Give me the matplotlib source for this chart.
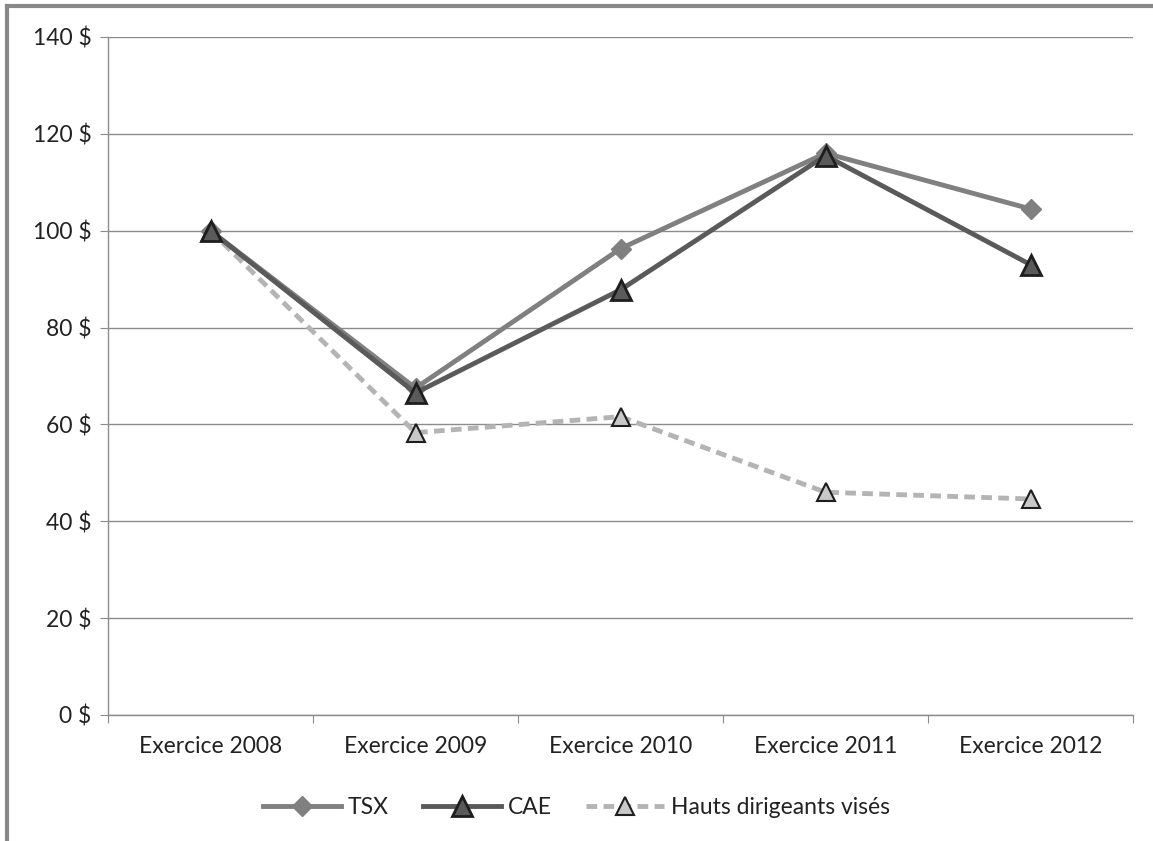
import matplotlib
matplotlib.use("Agg")
import matplotlib.pyplot as plt
from matplotlib.lines import Line2D

categories = ["Exercice 2008", "Exercice 2009", "Exercice 2010", "Exercice 2011", "Exercice 2012"]
tsx = [100, 67.5, 96.3, 116, 104.5]
cae = [100, 66.5, 87.8, 115.5, 93]
hauts = [100, 58.3, 61.6, 46, 44.6]
yticks = [0, 20, 40, 60, 80, 100, 120, 140]
ytick_labels = [f"{v} $" for v in yticks]

plt.rcParams['font.family'] = ['Lato', 'DejaVu Sans']

W, H = 1153, 841
fig = plt.figure(figsize=(W/100, H/100), dpi=100)
ax = fig.add_axes([108/W, 1-715/H, (1133-108)/W, (715-37)/H])

x = list(range(len(categories)))
ax.plot(x, tsx, color='#808080', lw=3.5, marker='D', ms=10, mfc='#808080', mec='#808080', label='TSX', zorder=3)
ax.plot(x, cae, color='#5a5a5a', lw=3.5, marker='^', ms=15, mfc='#5a5a5a', mec='#1e1e1e', mew=2, label='CAE', zorder=4)
ax.plot(x, hauts, color='#b4b4b4', lw=3.5, ls=(0, (2.2, 1.3)), marker='^', ms=13, mfc='#c8c8c8', mec='#1e1e1e', mew=1.5, label='Hauts dirigeants visés', zorder=3)

ax.set_xlim(-0.5, len(categories)-0.5)
ax.set_ylim(0, 140)
ax.set_yticks(yticks)
ax.set_yticklabels(ytick_labels)
ax.set_xticks([i - 0.5 for i in range(len(categories)+1)], minor=False)
ax.set_xticklabels([])
ax.set_xticks(x, minor=True)
ax.set_xticklabels(categories, minor=True)
ax.tick_params(axis='x', which='minor', length=0, pad=15, labelsize=16.5, colors='#222222')
ax.tick_params(axis='x', which='major', length=6, color='#8c8c8c', direction='out')
ax.tick_params(axis='y', length=6, color='#8c8c8c', labelsize=16.5, labelcolor='#222222', pad=6)
ax.grid(axis='y', color='#8c8c8c', lw=1)
ax.set_axisbelow(True)
for s in ['top', 'right']:
    ax.spines[s].set_visible(False)
for s in ['left', 'bottom']:
    ax.spines[s].set_color('#8c8c8c')
    ax.spines[s].set_linewidth(1)

leg = fig.legend(loc='center', bbox_to_anchor=(0.5, 1-808/H), ncol=3, frameon=False,
                 fontsize=16.5, handlelength=3.4, columnspacing=1.5, handletextpad=0.3)
for t in leg.get_texts():
    t.set_color('#222222')

fig.add_artist(Line2D([7/W, 1], [1-6/H, 1-6/H], color='#888888', lw=3, transform=fig.transFigure))
fig.add_artist(Line2D([7/W, 7/W], [0, 1-6/H], color='#888888', lw=3, transform=fig.transFigure))

fig.savefig("out.png", dpi=100, facecolor='white')
